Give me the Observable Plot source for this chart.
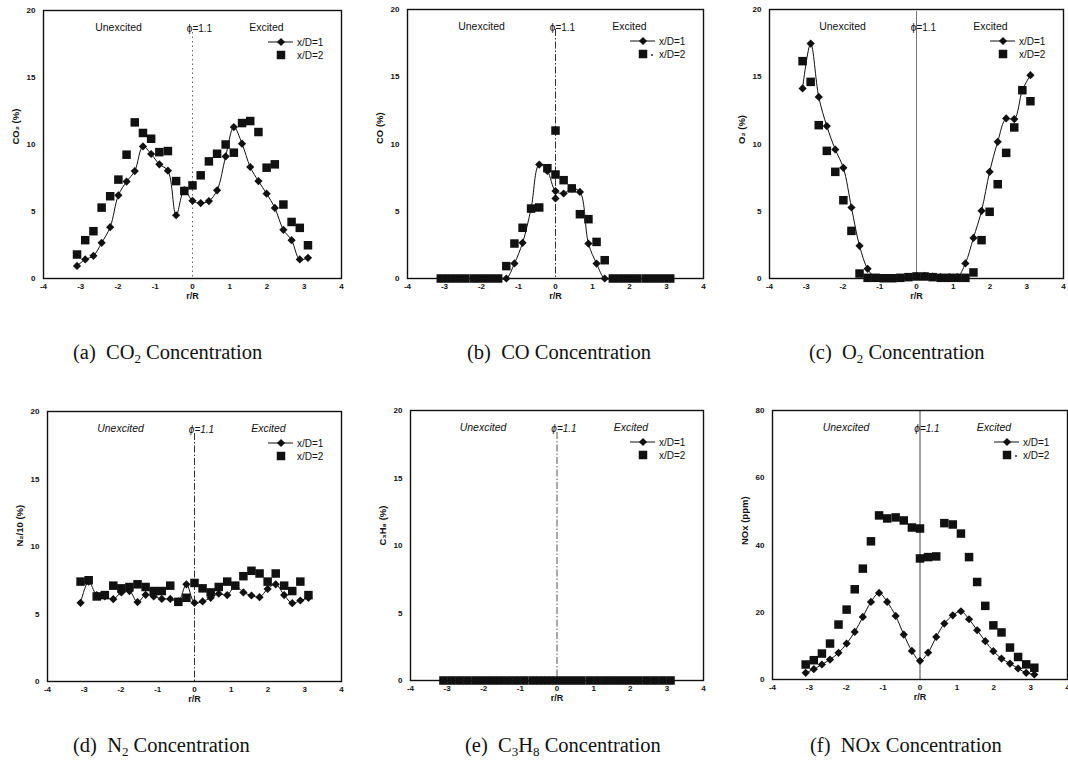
<!DOCTYPE html>
<html><head><meta charset="utf-8">
<script src="https://cdn.jsdelivr.net/npm/d3@7"></script>
<script src="https://cdn.jsdelivr.net/npm/@observablehq/plot@0.6"></script>
<style>
body{margin:0;background:#fff;width:1068px;height:762px;position:relative;overflow:hidden;font-family:"Liberation Sans",Arial,sans-serif}
svg.plotsvg{position:absolute}
.cap{position:absolute;font-family:"Liberation Serif","Times New Roman",serif;font-size:20.5px;line-height:24px;color:#111;white-space:nowrap;letter-spacing:0px}
.cap sub{font-size:13px;vertical-align:-4px;line-height:0}
</style></head><body>
<script>
// radial positions r/R
const rR = [-3.1,-2.88,-2.66,-2.44,-2.21,-1.99,-1.77,-1.55,-1.33,-1.11,-0.89,-0.66,-0.44,-0.22,0,0.22,0.44,0.66,0.89,1.11,1.33,1.55,1.77,1.99,2.21,2.44,2.66,2.88,3.1];
const xTicks = [-4,-3,-2,-1,0,1,2,3,4];
const pctTicks = [0,5,10,15,20];
const ppmTicks = [0,20,40,60,80];
const seriesNames = ["x/D=1","x/D=2"];

// (a) CO2 (%)
const co2_D1 = [0.94,1.42,1.69,2.66,3.83,6.21,7.23,8.02,9.86,9.29,8.52,8.05,4.72,6.6,5.8,5.63,5.78,6.58,9.11,11.3,10.06,8.32,7.27,6.33,5.27,3.63,2.86,1.42,1.54];
const co2_D2 = [1.79,2.86,3.53,5.29,6.14,7.38,9.24,11.65,10.86,10.43,9.43,9.51,7.27,6.53,6.95,7.7,8.74,9.31,10.0,9.39,11.6,11.75,10.93,8.27,8.52,5.52,4.22,3.78,2.48];
// (b) CO (%)
const co_D1 = [0,0,0,0,0,0,0,0,0,1.12,2.65,5.2,8.47,8.0,6.5,6.32,6.69,6.44,2.6,1.11,0,0,0,0,0,0,0,0,0];
const co_D2 = [0,0,0,0,0,0,0,0,0.92,2.6,3.77,5.2,5.28,8.2,11.0,7.31,6.7,4.78,4.41,2.72,1.36,0,0,0,0,0,0,0,0];
const co_D1_extra = [[0,5.95]];
const co_D2_extra = [[0,7.73]];
// (c) O2 (%)
const o2_D1 = [14.13,17.47,13.5,11.33,9.59,8.23,5.28,2.43,0.72,0.05,0.02,0.02,0.05,0.1,0.2,0.2,0.15,0.1,0.1,0.1,1.12,3.02,5.03,7.93,10.16,11.9,11.85,14.0,15.12];
const o2_D2 = [16.16,14.62,11.4,9.49,7.93,5.82,3.54,0.37,0.05,0.05,0.02,0.02,0.05,0.1,0.15,0.15,0.1,0.05,0.05,0.05,0.05,0.45,2.85,4.96,7.01,9.34,11.23,14.0,13.18];
// (d) N2/10 (%)
const n2_D1 = [5.83,7.4,6.4,6.3,6.1,6.6,6.7,5.88,6.42,6.3,6.12,6.12,5.93,7.2,5.83,5.93,6.2,6.5,6.4,7.1,6.6,6.37,6.25,6.86,7.2,6.4,5.8,6.0,6.2];
const n2_D2 = [7.4,7.5,6.3,6.4,7.1,6.9,7.0,7.2,7.0,6.7,6.7,7.1,5.9,6.2,7.3,6.9,6.6,7.0,7.4,7.1,7.8,8.2,8.0,7.4,8.0,7.1,6.7,7.4,6.4];
// (e) C3H8 (%)
const c3h8_D1 = [0,0,0,0,0,0,0,0,0,0,0,0,0,0,0,0,0,0,0,0,0,0,0,0,0,0,0,0,0];
const c3h8_D2 = [0,0,0,0,0,0,0,0,0,0,0,0,0,0,0,0,0,0,0,0,0,0,0,0,0,0,0,0,0];
// (f) NOx (ppm)
const nox_D1 = [1.98,3.07,4.46,5.94,7.92,10.69,14.16,18.6,23.07,25.74,23.07,18.9,13.37,8.51,5.54,8.02,12.67,16.63,19.1,20.3,17.92,14.65,11.39,8.42,6.24,4.75,3.27,1.98,1.49];
const nox_D2 = [4.46,5.74,7.72,10.69,16.34,20.79,26.83,32.97,41.1,48.8,47.9,48.2,47.3,45.2,44.9,36.4,36.6,46.5,46.1,43.4,36.4,29.0,21.9,16.1,14.0,9.5,6.7,4.5,3.5];
const nox_D2_extra = [[0,36.0]];

const captions = [
  ["(a)", "CO", "2", " Concentration"],
  ["(b)", "CO", "", " Concentration"],
  ["(c)", "O", "2", " Concentration"],
  ["(d)", "N", "2", " Concentration"],
  ["(e)", "C<sub>3</sub>H", "8", " Concentration"],
  ["(f)", "NOx", "", " Concentration"]
];

const toRows = (ys) => ys.map((y, i) => ({x: rR[i], y}));
const fromPairs = (ps) => ps.map(([x, y]) => ({x, y}));

const panels = [
  {left:0,   top:0,   width:350, height:310, ml:43, mr:9,  mt:10, mb:32, yticks:pctTicks, ylabel:"CO₂ (%)",   d1:co2_D1,  d2:co2_D2,  e1:[], e2:[], italic:false, zs:"#666", zd:"1.5,3", zi:22, dot:false, cap:[73,340]},
  {left:360, top:0,   width:350, height:310, ml:47, mr:7,  mt:9,  mb:32, yticks:pctTicks, ylabel:"CO (%)",    d1:co_D1,   d2:co_D2,   e1:co_D1_extra, e2:co_D2_extra, italic:false, zs:"#333", zd:"7,2,1.5,2", zi:20, dot:true, cap:[467,340]},
  {left:715, top:0,   width:353, height:310, ml:54, mr:5,  mt:9,  mb:32, yticks:pctTicks, ylabel:"O₂ (%)",    d1:o2_D1,   d2:o2_D2,   e1:[], e2:[], italic:false, zs:"#777", zd:null, zi:2, dot:false, cap:[809,340]},
  {left:0,   top:395, width:350, height:315, ml:47, mr:9,  mt:16, mb:29, yticks:pctTicks, ylabel:"N₂/10 (%)", d1:n2_D1,   d2:n2_D2,   e1:[], e2:[], italic:true, zs:"#333", zd:"7,2,1.5,2", zi:22, dot:false, cap:[73,733]},
  {left:360, top:395, width:350, height:315, ml:50, mr:7,  mt:15, mb:30, yticks:pctTicks, ylabel:"C₃H₈ (%)",  d1:c3h8_D1, d2:c3h8_D2, e1:[], e2:[], italic:true, zs:"#555", zd:"7,2,1.5,2", zi:22, dot:false, cap:[465,733]},
  {left:715, top:395, width:353, height:315, ml:57, mr:1,  mt:15, mb:31, yticks:ppmTicks, ylabel:"NOx (ppm)", d1:nox_D1,  d2:nox_D2,  e1:[], e2:nox_D2_extra, italic:true, zs:"#444", zd:null, zi:0, dot:true, cap:[810,733]}
];

const ink = "#111";
panels.forEach((p, k) => {
  const s1 = toRows(p.d1), s2 = toRows(p.d2);
  const x1 = fromPairs(p.e1), x2 = fromPairs(p.e2);
  const ymax = p.yticks[p.yticks.length - 1];
  const fs = p.italic ? "italic" : "normal";
  const plot = Plot.plot({
    width: p.width, height: p.height,
    marginLeft: p.ml, marginRight: p.mr, marginTop: p.mt, marginBottom: p.mb,
    style: {fontFamily: "'Liberation Sans', Arial, sans-serif", color: ink, background: "transparent", overflow: "visible"},
    x: {domain: [-4, 4]},
    y: {domain: [0, ymax]},
    marks: [
      Plot.ruleX([0], {stroke: p.zs, strokeWidth: 1, strokeDasharray: p.zd, insetTop: p.zi}),
      Plot.dot(s2, {x: "x", y: "y", symbol: "square", r: 4.8, fill: ink}),
      Plot.dot(x2, {x: "x", y: "y", symbol: "square", r: 4.8, fill: ink}),
      Plot.line(s1, {x: "x", y: "y", curve: "catmull-rom", stroke: ink, strokeWidth: 1}),
      Plot.dot(s1, {x: "x", y: "y", symbol: "diamond2", r: 3.7, fill: ink}),
      Plot.dot(x1, {x: "x", y: "y", symbol: "diamond2", r: 3.7, fill: ink}),
      Plot.frame({stroke: ink, strokeWidth: 1.4}),
      Plot.axisX({ticks: xTicks, tickFormat: d => String(d), tickSize: 0, tickPadding: 5, fontSize: 8, fontWeight: "bold", label: null}),
      Plot.axisY({ticks: p.yticks, tickFormat: d => String(d), tickSize: 0, tickPadding: 8, fontSize: 8, fontWeight: "bold", label: null}),
      Plot.text(["r/R"], {text: d => d, frameAnchor: "bottom", dy: 20, fontSize: 9, fontWeight: "bold", fill: ink}),
      Plot.text([p.ylabel], {text: d => d, frameAnchor: "left", dx: -28, rotate: -90, fontSize: 9.5, fontWeight: "bold", fill: ink}),
      Plot.text(["Unexcited"], {text: d => d, frameAnchor: "top", dx: -74, dy: 13, fontSize: 10.5, fontStyle: fs, fill: ink}),
      Plot.text(["Excited"], {text: d => d, frameAnchor: "top", dx: 74, dy: 13, fontSize: 10.5, fontStyle: fs, fill: ink}),
      Plot.text(["ϕ=1.1"], {text: d => d, frameAnchor: "top", dx: 7, dy: 14, fontSize: 10, fontStyle: fs, fill: ink})
    ]
  });
  plot.classList.add("plotsvg");
  plot.style.left = p.left + "px";
  plot.style.top = p.top + "px";
  // legend, placed relative to the frame's top-right corner
  const R = p.width - p.mr, T = p.mt;
  const g = d3.select(plot).append("g").attr("fill", ink).attr("text-anchor", "start");
  const ly1 = T + 32, ly2 = T + 45, mx = R - 60;
  g.append("line").attr("x1", R - 73).attr("x2", R - 48).attr("y1", ly1).attr("y2", ly1).attr("stroke", ink).attr("stroke-width", 1);
  g.append("path").attr("d", d3.symbol(d3.symbolDiamond2, Math.PI * 3.7 * 3.7)()).attr("transform", `translate(${mx},${ly1})`);
  g.append("path").attr("d", d3.symbol(d3.symbolSquare, Math.PI * 4.8 * 4.8)()).attr("transform", `translate(${mx},${ly2})`);
  if (p.dot) g.append("circle").attr("cx", mx + 9).attr("cy", ly2 + 1).attr("r", 0.9);
  seriesNames.forEach((t, i) => {
    g.append("text").attr("x", R - 44).attr("y", i ? ly2 : ly1).attr("dy", "0.35em")
      .attr("text-anchor", "start")
      .attr("font-size", 10).attr("font-family", "'Liberation Sans', Arial, sans-serif").text(t);
  });
  document.body.appendChild(plot);

  const c = captions[k];
  const div = document.createElement("div");
  div.className = "cap";
  div.style.left = p.cap[0] + "px";
  div.style.top = p.cap[1] + "px";
  div.innerHTML = `${c[0]}&nbsp; ${c[1]}${c[2] ? `<sub>${c[2]}</sub>` : ""}${c[3]}`;
  document.body.appendChild(div);
});
</script>
</body></html>
